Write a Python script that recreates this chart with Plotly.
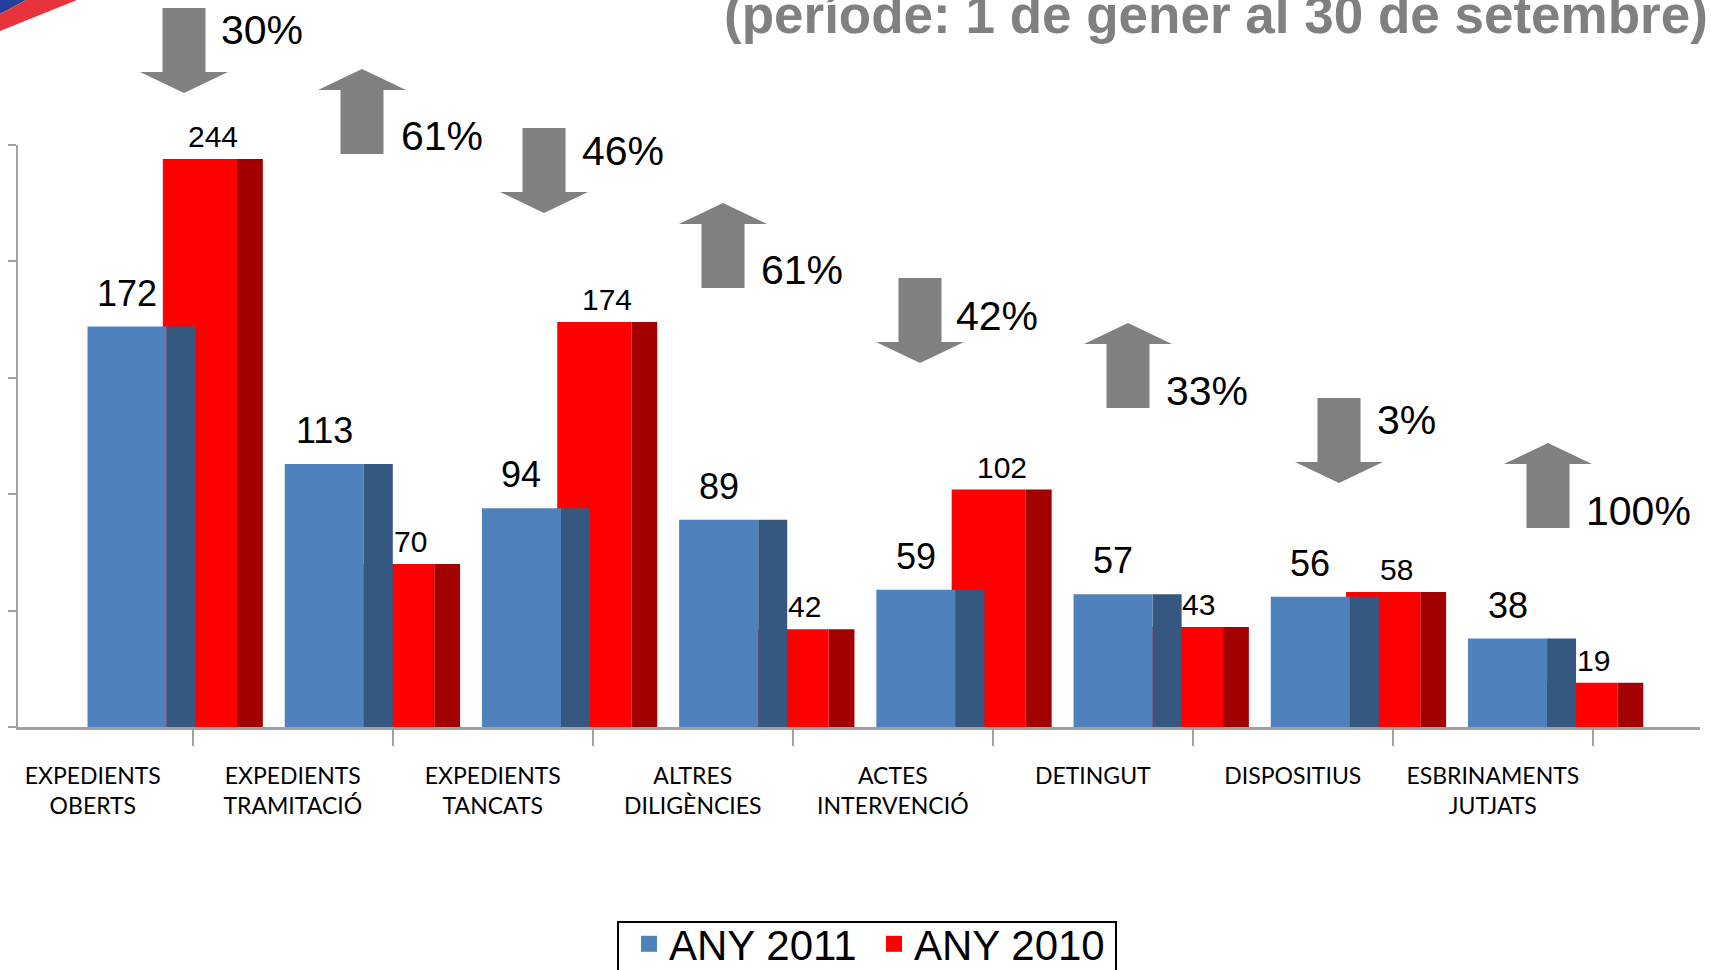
import plotly.graph_objects as go

# ---------------- data ----------------
categories = ["EXPEDIENTS<br>OBERTS", "EXPEDIENTS<br>TRAMITACIÓ", "EXPEDIENTS<br>TANCATS",
              "ALTRES<br>DILIGÈNCIES", "ACTES<br>INTERVENCIÓ", "DETINGUT",
              "DISPOSITIUS", "ESBRINAMENTS<br>JUTJATS"]
any_2011 = [172, 113, 94, 89, 59, 57, 56, 38]
any_2010 = [244, 70, 174, 42, 102, 43, 58, 19]
pct_labels = ["30%", "61%", "46%", "61%", "42%", "33%", "3%", "100%"]
series_names = ["ANY 2011", "ANY 2010"]
title_text = "(període: 1 de gener al 30 de setembre)"

# ---------------- layout constants ----------------
W, H = 1711, 970
ML, MR, MT, MB = 18, 11, 145, 243
PW = W - ML - MR
PH = H - MT - MB
Y0 = H - MB


def px(x):
    return (x - ML) / PW


def py(y):
    return (Y0 - y) / PH


BLUE, BLUE_SIDE = "#4F81BD", "#36577F"
RED, RED_SIDE = "#FF0000", "#A30000"
GRAY = "#A0A0A0"
ARIAL = "Liberation Sans, Arial, sans-serif"

# bar geometry in category units (front face + darker side face for a 3D look)
BF_OFF, BF_W = -0.4445, 0.401
BS_OFF, BS_W = -0.0435, 0.147
RF_OFF, RF_W = -0.0625, 0.376
RS_OFF, RS_W = 0.3135, 0.131

fig = go.Figure()

fig.add_trace(go.Bar(x=categories, y=any_2010, offset=RS_OFF, width=RS_W,
                     marker=dict(color=RED_SIDE, line=dict(width=0)),
                     showlegend=False, hoverinfo="skip"))
fig.add_trace(go.Bar(x=categories, y=any_2010, offset=RF_OFF, width=RF_W,
                     marker=dict(color=RED, line=dict(width=0)),
                     name=series_names[1], showlegend=False))
fig.add_trace(go.Bar(x=categories, y=any_2011, offset=BS_OFF, width=BS_W,
                     marker=dict(color=BLUE_SIDE, line=dict(width=0)),
                     showlegend=False, hoverinfo="skip"))
fig.add_trace(go.Bar(x=categories, y=any_2011, offset=BF_OFF, width=BF_W,
                     marker=dict(color=BLUE, line=dict(width=0)),
                     name=series_names[0], showlegend=False))
# legend entries (square swatches, as in the slide)
for name, col, rank in [(series_names[0], BLUE, 1), (series_names[1], RED, 2)]:
    fig.add_trace(go.Scatter(x=[None], y=[None], mode="markers", name=name,
                             marker=dict(symbol="square", size=22, color=col),
                             legendrank=rank, hoverinfo="skip"))
# invisible helper so the category-label axis is drawn
fig.add_trace(go.Scatter(x=list(range(len(categories))), y=[0] * len(categories),
                         xaxis="x2", mode="markers", marker=dict(opacity=0),
                         showlegend=False, hoverinfo="skip"))

annotations = []
# value labels
for i, (b, r) in enumerate(zip(any_2011, any_2010)):
    annotations.append(dict(x=i + BF_OFF + BF_W / 2, y=b, xref="x", yref="y",
                            text=str(b), showarrow=False, yanchor="bottom", yshift=11,
                            font=dict(family=ARIAL, size=36, color="black")))
    annotations.append(dict(x=i + (RF_OFF + RS_OFF + RS_W) / 2, y=r, xref="x", yref="y",
                            text=str(r), showarrow=False, yanchor="bottom", yshift=4,
                            font=dict(family=ARIAL, size=30, color="black")))

# percent-change block arrows (decoration placement, pixel positions)
ARROW_CX = [184, 362, 544, 723, 920, 1128, 1339, 1548]
ARROW_TOP = [8, 69, 128, 203, 278, 323, 398, 443]
TEXT_LEFT = [219, 399, 580, 759, 954, 1164, 1375, 1584]
TEXT_MID = [30, 136, 151, 270, 316, 391, 420, 511]
A_LEN, SHAFT_W, HEAD_W, HEAD_H = 85, 43, 88, 21

shapes = []
for i in range(len(pct_labels)):
    cx, top = ARROW_CX[i], ARROW_TOP[i]
    bot = top + A_LEN
    s, h = SHAFT_W / 2, HEAD_W / 2
    if any_2011[i] < any_2010[i]:  # down arrow
        pts = [(cx - s, top), (cx + s, top), (cx + s, bot - HEAD_H), (cx + h, bot - HEAD_H),
               (cx, bot), (cx - h, bot - HEAD_H), (cx - s, bot - HEAD_H)]
    else:  # up arrow
        pts = [(cx, top), (cx + h, top + HEAD_H), (cx + s, top + HEAD_H), (cx + s, bot),
               (cx - s, bot), (cx - s, top + HEAD_H), (cx - h, top + HEAD_H)]
    path = "M " + " L ".join(f"{px(a):.5f},{py(b):.5f}" for a, b in pts) + " Z"
    shapes.append(dict(type="path", path=path, xref="paper", yref="paper",
                       fillcolor="#808080", line=dict(width=0), layer="above"))
    annotations.append(dict(x=px(TEXT_LEFT[i]), y=py(TEXT_MID[i]), xref="paper", yref="paper",
                            xanchor="left", yanchor="middle", text=pct_labels[i], showarrow=False,
                            font=dict(family=ARIAL, size=41, color="black")))

# title (partly cut at top edge as in the slide)
annotations.append(dict(x=px(1710), y=py(46), xref="paper", yref="paper", xanchor="right",
                        yanchor="bottom", text="<b>" + title_text + "</b>", showarrow=False,
                        font=dict(family=ARIAL, size=53, color="#808080")))

# corner logo fragment
def poly(pts, color):
    path = "M " + " L ".join(f"{px(a):.5f},{py(b):.5f}" for a, b in pts) + " Z"
    return dict(type="path", path=path, xref="paper", yref="paper",
                fillcolor=color, line=dict(width=0), layer="above")

shapes.append(poly([(0, 0), (26, 0), (0, 14)], "#23409A"))
shapes.append(poly([(26, 0), (77, 0), (0, 31), (0, 14)], "#E8323C"))

# legend frame
shapes.append(dict(type="rect", xref="paper", yref="paper", x0=px(618), x1=px(1116),
                   y0=py(990), y1=py(922), line=dict(color="black", width=2),
                   fillcolor="rgba(0,0,0,0)", layer="above"))

# axis geometry
xr_bar = [-0.797, 7.732]
xr_lab = [-0.374, 8.036]

fig.update_layout(
    width=W, height=H,
    margin=dict(l=ML, r=MR, t=MT, b=MB, pad=0, autoexpand=False),
    paper_bgcolor="white", plot_bgcolor="white",
    barmode="overlay",
    showlegend=True,
    legend=dict(orientation="h", xref="container", yref="container",
                x=629 / W, y=(H - 910) / H, xanchor="left", yanchor="top",
                borderwidth=0, bgcolor="rgba(0,0,0,0)", entrywidth=200,
                font=dict(family=ARIAL, size=42, color="black"), traceorder="normal"),
    xaxis=dict(type="category", range=xr_bar, showticklabels=False, ticks="",
               showgrid=False, zeroline=False, showline=False),
    xaxis2=dict(overlaying="x", anchor="y", side="bottom", range=xr_lab,
                tickmode="array", tickvals=list(range(len(categories))), ticktext=categories,
                ticks="", showgrid=False, zeroline=False,
                showline=True, linecolor=GRAY, linewidth=3,
                ticklabelstandoff=26,
                tickfont=dict(family="Lato, sans-serif", size=23, color="black"),
                minor=dict(tickmode="array", tickvals=[i + 0.5 for i in range(len(categories))],
                           ticks="outside", ticklen=16, tickwidth=2, tickcolor=GRAY)),
    yaxis=dict(range=[0, 250], tickmode="array", tickvals=[0, 50, 100, 150, 200, 250],
               ticks="outside", ticklen=8, tickwidth=2, tickcolor=GRAY,
               showticklabels=False, showline=True, linecolor=GRAY, linewidth=2,
               showgrid=False, zeroline=False),
    annotations=annotations,
    shapes=shapes,
)

fig.write_html("out.html", config={"displayModeBar": False},
               post_script="document.body.style.margin='0';")
